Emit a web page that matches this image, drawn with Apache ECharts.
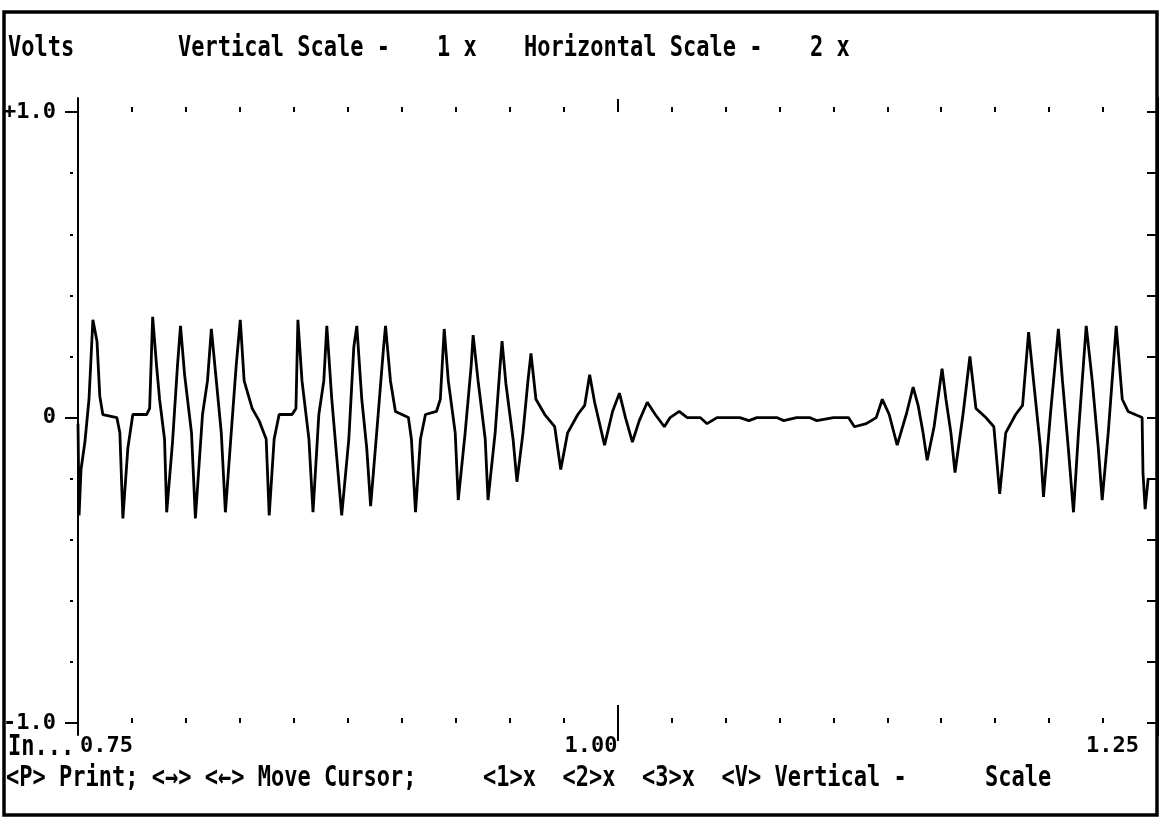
<!DOCTYPE html>
<html>
<head>
<meta charset="utf-8">
<script src="https://cdn.jsdelivr.net/npm/echarts@6/dist/echarts.min.js"></script>
<style>
html,body{margin:0;padding:0;background:#fff;}
#chart{width:1166px;height:824px;}
</style>
</head>
<body>
<div id="chart"></div>
<script>
// ---- data ----
const xValues = [
  0.7500,0.7505,0.7514,0.7532,0.7551,0.7569,0.7588,0.7601,0.7615,0.7680,
  0.7694,0.7708,0.7731,0.7754,0.7818,0.7832,0.7846,0.7864,0.7878,0.7901,
  0.7911,0.7938,0.7961,0.7975,0.7994,0.8026,0.8044,0.8077,0.8100,0.8118,
  0.8141,0.8164,0.8183,0.8210,0.8233,0.8252,0.8270,0.8307,0.8339,0.8372,
  0.8386,0.8409,0.8432,0.8492,0.8510,0.8519,0.8538,0.8570,0.8589,0.8616,
  0.8639,0.8653,0.8676,0.8699,0.8722,0.8755,0.8778,0.8792,0.8815,0.8838,
  0.8856,0.8884,0.8916,0.8925,0.8948,0.8971,0.9031,0.9045,0.9064,0.9087,
  0.9110,0.9161,0.9179,0.9197,0.9216,0.9248,0.9262,0.9294,0.9322,0.9331,
  0.9354,0.9387,0.9400,0.9433,0.9456,0.9465,0.9483,0.9516,0.9534,0.9562,
  0.9585,0.9599,0.9622,0.9663,0.9709,0.9737,0.9769,0.9816,0.9848,0.9871,
  0.9894,0.9940,0.9977,1.0009,1.0037,1.0069,1.0101,1.0138,1.0175,1.0217,
  1.0244,1.0286,1.0323,1.0383,1.0415,1.0461,1.0567,1.0609,1.0646,1.0738,
  1.0770,1.0830,1.0890,1.0923,1.1001,1.1070,1.1098,1.1153,1.1199,1.1227,
  1.1259,1.1296,1.1338,1.1370,1.1393,1.1416,1.1435,1.1467,1.1504,1.1522,
  1.1545,1.1564,1.1601,1.1633,1.1661,1.1707,1.1744,1.1771,1.1799,1.1845,
  1.1877,1.1905,1.1928,1.1960,1.1974,1.2006,1.2043,1.2062,1.2089,1.2113,
  1.2136,1.2172,1.2200,1.2228,1.2246,1.2274,1.2311,1.2339,1.2366,1.2431,
  1.2435,1.2445,1.2459
];
const yValues = [
  -0.02,-0.32,-0.17,-0.08,0.06,0.32,0.25,0.07,0.01,0.00,
  -0.05,-0.33,-0.10,0.01,0.01,0.03,0.33,0.17,0.06,-0.07,
  -0.31,-0.08,0.17,0.30,0.14,-0.05,-0.33,0.01,0.12,0.29,
  0.12,-0.05,-0.31,-0.05,0.17,0.32,0.12,0.03,-0.01,-0.07,
  -0.32,-0.07,0.01,0.01,0.03,0.32,0.12,-0.07,-0.31,0.01,
  0.12,0.30,0.06,-0.13,-0.32,-0.07,0.23,0.30,0.06,-0.10,
  -0.29,-0.05,0.23,0.30,0.12,0.02,0.00,-0.07,-0.31,-0.07,
  0.01,0.02,0.06,0.29,0.12,-0.05,-0.27,-0.05,0.17,0.27,
  0.12,-0.07,-0.27,-0.05,0.17,0.25,0.11,-0.07,-0.21,-0.05,
  0.12,0.21,0.06,0.01,-0.03,-0.17,-0.05,0.01,0.04,0.14,
  0.05,-0.09,0.02,0.08,0.00,-0.08,-0.01,0.05,0.01,-0.03,
  0.00,0.02,0.00,0.00,-0.02,0.00,0.00,-0.01,0.00,0.00,
  -0.01,0.00,0.00,-0.01,0.00,0.00,-0.03,-0.02,0.00,0.06,
  0.01,-0.09,0.01,0.10,0.04,-0.05,-0.14,-0.03,0.16,0.06,
  -0.05,-0.18,0.01,0.20,0.03,0.00,-0.03,-0.25,-0.05,0.01,
  0.04,0.28,0.12,-0.10,-0.26,0.01,0.29,0.12,-0.10,-0.31,
  -0.05,0.30,0.12,-0.10,-0.27,-0.05,0.30,0.06,0.02,0.00,
  -0.18,-0.30,-0.20
];
const xTickValues = [0.75, 1.00, 1.25];
const xTickLabels = ['0.75', '1.00', '1.25'];
const yTickValues = [-1, 0, 1];
const yTickLabels = ['-1.0', '0', '+1.0'];
const yDotTicks = [-0.8, -0.6, -0.4, -0.2, 0.2, 0.4, 0.6, 0.8];
const yRightTicks = [-1, -0.8, -0.6, -0.4, -0.2, 0, 0.2, 0.4, 0.6, 0.8, 1];
const xLongTicks = [1.00];
const headerTexts = ['Volts', 'Vertical Scale -', '1 x', 'Horizontal Scale -', '2 x'];
const footerTexts = ['In...', '<P> Print; <→> <←> Move Cursor;', '<1>x  <2>x  <3>x  <V> Vertical -', 'Scale'];

// ---- chart ----
const FONT_FAMILY = '"DejaVu Sans Mono", "Liberation Mono", monospace';
const X_MIN = 0.75, X_MAX = 1.25, X_STEP = 0.25;
const Y_MIN = -1.039, Y_MAX = 1.046;

const chart = echarts.init(document.getElementById('chart'), null, {renderer: 'canvas'});

function xLabel(v) {
  const i = xTickValues.findIndex(t => Math.abs(t - v) < 1e-9);
  if (i < 0) return '';
  if (i === xTickValues.length - 1) return '{r|' + xTickLabels[i] + '}';
  if (i === 0) return '{l|' + xTickLabels[i] + '}';
  return xTickLabels[i];
}
function yLabel(v) {
  const i = yTickValues.findIndex(t => Math.abs(t - v) < 1e-9);
  return i < 0 ? '' : yTickLabels[i];
}

const labelStyle = {fontFamily: FONT_FAMILY, fontWeight: 'bold', fontSize: 22, color: '#000'};
const yLabelStyle = {fontFamily: FONT_FAMILY, fontWeight: 'bold', fontSize: 22, color: '#000'};

function textEl(str, x, y) {
  return {
    type: 'text', x: x, y: y, scaleY: 1.3, z: 50,
    style: {
      text: str, fill: '#000',
      font: 'bold 22px ' + FONT_FAMILY,
      textAlign: 'left', textVerticalAlign: 'middle'
    }
  };
}

const option = {
  animation: false,
  backgroundColor: '#fff',
  grid: {left: 78, right: 9, top: 98, bottom: 89, containLabel: false, outerBoundsMode: 'none'},
  xAxis: [
    { // bottom axis: dots, labels
      type: 'value', position: 'bottom', offset: -12, gridIndex: 0,
      min: X_MIN, max: X_MAX, interval: X_STEP,
      axisLine: {show: false, onZero: false},
      axisTick: {show: true, inside: true, length: 18, lineStyle: {color: '#000', width: 2}},
      minorTick: {show: true, splitNumber: 10, length: 5, lineStyle: {color: '#000', width: 2}},
      splitLine: {show: false}, minorSplitLine: {show: false},
      axisLabel: Object.assign({
        show: true, margin: 12, align: 'right', alignMinLabel: 'left', alignMaxLabel: 'right',
        formatter: xLabel,
        rich: {
          r: Object.assign({padding: [0, 18, 0, 0]}, labelStyle),
          l: Object.assign({padding: [0, 0, 0, 2]}, labelStyle)
        }
      }, labelStyle)
    },
    { // long cursor tick at 1.00 below the -1.0 line
      type: 'value', position: 'bottom', offset: -12, gridIndex: 0,
      min: X_MIN, max: X_MAX, interval: X_STEP,
      axisLine: {show: false, onZero: false},
      axisTick: {show: true, inside: false, length: 18, customValues: xLongTicks, lineStyle: {color: '#000', width: 2}},
      axisLabel: {show: false}, splitLine: {show: false}
    },
    { // top dotted scale
      type: 'value', position: 'top', offset: -14, gridIndex: 0,
      min: X_MIN, max: X_MAX, interval: X_STEP,
      axisLine: {show: false, onZero: false},
      axisTick: {show: true, inside: false, length: 13, lineStyle: {color: '#000', width: 2}},
      minorTick: {show: true, splitNumber: 10, length: 5, lineStyle: {color: '#000', width: 2}},
      axisLabel: {show: false}, splitLine: {show: false}, minorSplitLine: {show: false}
    }
  ],
  yAxis: [
    { // main left axis
      type: 'value', position: 'left', gridIndex: 0,
      min: Y_MIN, max: Y_MAX,
      axisLine: {show: true, onZero: false, lineStyle: {color: '#000', width: 2}},
      axisTick: {show: true, length: 13, customValues: yTickValues, lineStyle: {color: '#000', width: 2}},
      axisLabel: Object.assign({show: true, margin: 22, customValues: yTickValues, formatter: yLabel}, yLabelStyle),
      splitLine: {show: false}
    },
    { // small dots left of the axis
      type: 'value', position: 'left', offset: 5, gridIndex: 0,
      min: Y_MIN, max: Y_MAX,
      axisLine: {show: false, onZero: false},
      axisTick: {show: true, length: 3, customValues: yDotTicks, lineStyle: {color: '#000', width: 2}},
      axisLabel: {show: false}, splitLine: {show: false}
    },
    { // right frame ticks
      type: 'value', position: 'right', gridIndex: 0,
      min: Y_MIN, max: Y_MAX,
      axisLine: {show: true, onZero: false, lineStyle: {color: '#000', width: 3}},
      axisTick: {show: true, inside: true, length: 10, customValues: yRightTicks, lineStyle: {color: '#000', width: 2}},
      axisLabel: {show: false}, splitLine: {show: false}
    }
  ],
  series: [{
    type: 'line',
    xAxisIndex: 0, yAxisIndex: 0,
    data: xValues.map((x, i) => [x, yValues[i]]),
    showSymbol: false, symbol: 'none',
    lineStyle: {color: '#000', width: 2.8},
    smooth: false
  }],
  graphic: [
    {type: 'rect', z: 60, shape: {x: 4, y: 12, width: 1153, height: 803},
     style: {fill: 'none', stroke: '#000', lineWidth: 3.5}},
    textEl(headerTexts[0], 8, 49),
    textEl(headerTexts[1], 178, 49),
    textEl(headerTexts[2], 437, 49),
    textEl(headerTexts[3], 524, 49),
    textEl(headerTexts[4], 810, 49),
    textEl(footerTexts[0], 8, 748),
    textEl(footerTexts[1], 6, 779),
    textEl(footerTexts[2], 483, 779),
    textEl(footerTexts[3], 985, 779)
  ]
};
chart.setOption(option);
</script>
</body>
</html>
